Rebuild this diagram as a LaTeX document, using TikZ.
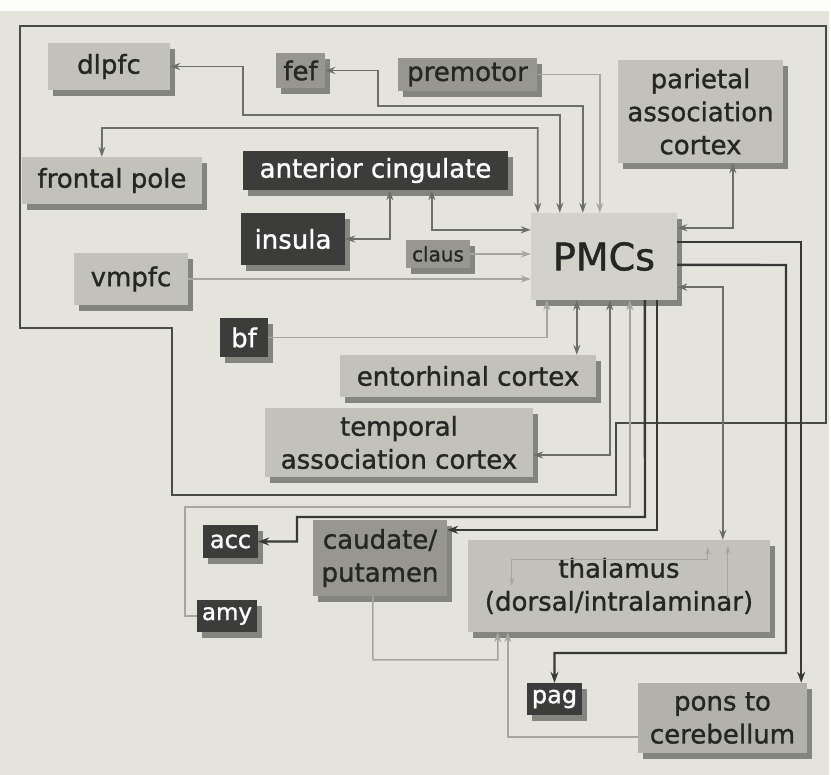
\documentclass[tikz,border=0pt]{standalone}
\usepackage{fontspec}
\setmainfont{DejaVu Sans}
\newfontfamily\bxfam{DejaVu Sans}[FakeBold=1.2]
\usetikzlibrary{arrows.meta,shadows,calc}
\definecolor{bgc}{HTML}{E4E4DC}
\definecolor{lgc}{HTML}{C2C2BA}
\definecolor{pmc}{HTML}{D2D2CA}
\definecolor{mgc}{HTML}{97978F}
\definecolor{dgc}{HTML}{3C3C3A}
\definecolor{shc}{HTML}{85857F}
\definecolor{txc}{HTML}{262624}
\definecolor{dkc}{HTML}{383836}
\definecolor{mdc}{HTML}{6E6E68}
\definecolor{ltc}{HTML}{A6A69E}
\definecolor{frc}{HTML}{4A4A46}
\newcommand\bxf{\bxfam\fontsize{26}{33}\selectfont}
\begin{document}
\begin{tikzpicture}[x=1pt,y=-1pt,
  box/.style={inner sep=0pt, align=center, font=\bxf,
    general shadow={fill=shc, shadow xshift=5pt, shadow yshift=-6pt}},
  lbox/.style={box, fill=lgc, text=txc},
  mbox/.style={box, fill=mgc, text=txc},
  dbox/.style={box, fill=dgc, text=white},
  wdark/.style={draw=dkc, line width=2.4pt, >={Stealth[length=11pt,width=8pt]}},
  wmed/.style={draw=mdc, line width=1.8pt, >={Stealth[length=10pt,width=7pt,fill=ltc]}},
  wlight/.style={draw=ltc, line width=1.5pt, >={Stealth[length=10pt,width=7pt,fill=ltc!70!white]}},
  wthin/.style={draw=ltc, line width=1.2pt},
  frameline/.style={draw=frc, line width=1.6pt}]
\useasboundingbox (0,0) rectangle (831,775);
\fill[bgc] (0,0) rectangle (831,775);
\fill[white!92!bgc] (0,0) rectangle (831,11);
\fill[white!92!bgc] (829,0) rectangle (831,775);

% cortical boundary
\draw[frameline] (20,26) -- (826,26) -- (826,423) -- (616,423) -- (616,495)
  -- (172,495) -- (172,328) -- (20,328) -- cycle;

% boxes
\node[lbox, minimum width=122pt, minimum height=47pt] (dlpfc) at (109,66.5) {dlpfc};
\node[mbox, minimum width=49pt, minimum height=35pt] (fef) at (300.5,70.5) {fef};
\node[mbox, minimum width=139pt, minimum height=33pt] (premotor) at (467.5,74.5) {premotor};
\node[lbox, minimum width=165pt, minimum height=103pt] (par) at (700.5,111.5) {parietal\\association\\cortex};
\node[lbox, minimum width=180pt, minimum height=47pt] (fp) at (112,180.5) {frontal pole};
\node[dbox, minimum width=265pt, minimum height=39pt] (ac) at (375.5,170.5) {anterior cingulate};
\node[dbox, minimum width=104pt, minimum height=52pt] (insula) at (293,239) {insula};
\node[mbox, minimum width=64pt, minimum height=28pt, font=\bxfam\fontsize{20}{22}\selectfont] (claus) at (438,254) {claus};
\node[box, fill=pmc, text=txc, minimum width=146pt, minimum height=87pt, font=\bxfam\fontsize{38}{40}\selectfont] (PMCs) at (604,256.5) {PMCs};
\node[lbox, minimum width=114pt, minimum height=52pt] (vmpfc) at (131,279) {vmpfc};
\node[dbox, minimum width=48pt, minimum height=39pt] (bf) at (244,337.5) {bf};
\node[lbox, minimum width=256pt, minimum height=42pt] (ent) at (468,376) {entorhinal cortex};
\node[lbox, minimum width=268pt, minimum height=69pt] (temp) at (399,442.5) {temporal\\association cortex};
\node[dbox, minimum width=55pt, minimum height=33pt, font=\bxfam\fontsize{24}{28}\selectfont] (acc) at (230.5,541.5) {acc};
\node[mbox, minimum width=134pt, minimum height=76pt] (caud) at (380,558) {caudate/\\putamen};
\node[dbox, minimum width=60pt, minimum height=32pt, font=\bxfam\fontsize{23}{28}\selectfont] (amy) at (227,616) {amy};
\node[lbox, minimum width=302pt, minimum height=92pt] (thal) at (619,586) {thalamus\\(dorsal/intralaminar)};
\node[dbox, minimum width=55pt, minimum height=32pt, font=\bxfam\fontsize{24}{28}\selectfont] (pag) at (554.5,699) {pag};
\node[lbox, fill=lgc!92!black, minimum width=169pt, minimum height=70pt] (pons) at (722.5,718) {pons to\\cerebellum};

\coordinate (pe) at ([xshift=46pt]PMCs.south west);

% connectors to PMCs top
\draw[wmed,<->] ([xshift=80pt]fp.north west) -- (102,128) -| ([xshift=7pt]PMCs.north west);
\draw[wmed,<->] (dlpfc.east) -| (243,115) -| ([xshift=29pt]PMCs.north west);
\draw[wmed,<->] (fef.east) -| (378,106) -| ([xshift=52pt]PMCs.north west);
\draw[wlight,->] (premotor.east) -| ([xshift=69pt]PMCs.north west);

% left side
\draw[wmed,<->] ([xshift=189pt]ac.south west) |- ([yshift=-17pt]PMCs.north west);
\draw[wmed,<->] (insula.east) -| ([xshift=147pt]ac.south west);
\draw[wlight,->] (claus.east) -- (claus.east -| PMCs.west);
\draw[wlight,->] (vmpfc.east) -- (vmpfc.east -| PMCs.west);

% right side
\draw[wmed,<->] ([xshift=115pt]par.south west) |- ([yshift=-15pt]PMCs.north east);
\draw[wdark,->] ([yshift=-29pt]PMCs.north east) -| ([xshift=-6pt]pons.north east);
\draw[wdark,->] ([yshift=-52pt]PMCs.north east) -- (786,265) -- (786,653) -| (pag.north);
\draw[wmed,<->] ([yshift=13pt]PMCs.south east) -| ([xshift=255pt]thal.north west);

% bottom side
\draw[wlight,->] (bf.east) -| ([xshift=16pt]PMCs.south west);
\draw[wmed,<->] (pe) -- (pe |- ent.north);
\draw[wmed,<->] ([xshift=79pt]PMCs.south west) |- ([yshift=-12.5pt]temp.east);
\draw[wlight,->] (amy.west) -- (185,616) -- (185,507) -| ([xshift=99pt]PMCs.south west);
\draw[wdark,->] ([xshift=114pt]PMCs.south west) -- (645,517) -| (297,541.5) -- (acc.east);
\draw[wdark,->] ([xshift=126pt]PMCs.south west) |- ([yshift=-10pt]caud.north east);

% subcortical
\draw[wlight,->] ([xshift=60pt]caud.south west) -- (373,660) -| ([xshift=30pt]thal.south west);
\draw[wlight,->] ([yshift=-19pt]pons.west) -| ([xshift=40pt]thal.south west);

% lines inside thalamus
\draw[wthin, {Stealth[open,length=8pt,width=5pt]}-{Stealth[open,length=8pt,width=5pt]}]
  ([xshift=44pt,yshift=-46pt]thal.north west) |- ([xshift=240pt,yshift=-20pt]thal.north west)
  -- ([xshift=240pt,yshift=-7pt]thal.north west);
\draw[wthin, -{Stealth[open,length=8pt,width=5pt]}]
  ([xshift=260pt,yshift=-58pt]thal.north west) -- ([xshift=260pt,yshift=-6pt]thal.north west);
\end{tikzpicture}
\end{document}
